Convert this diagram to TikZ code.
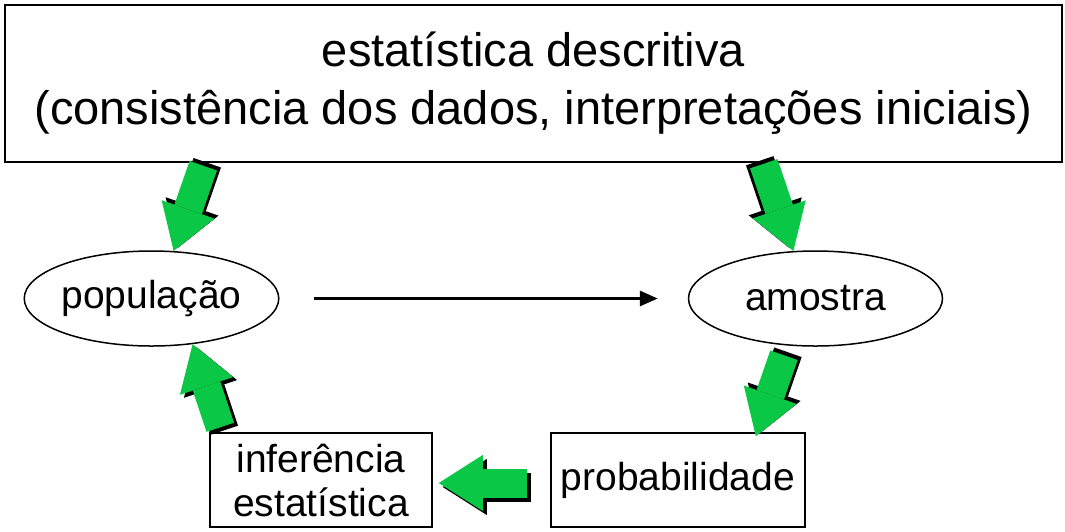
\documentclass[tikz,border=0pt]{standalone}
\usepackage{fontspec}
\setmainfont{Liberation Sans}
\usetikzlibrary{arrows.meta,calc,shapes.geometric}
\definecolor{arrowgreen}{RGB}{10,200,70}

\begin{document}
\begin{tikzpicture}[x=1pt, y=-1pt,
  box/.style={draw, line width=1.5pt, inner sep=0pt},
  oval/.style={draw, ellipse, line width=1.5pt, inner sep=0pt,
    minimum width=254pt, minimum height=95pt, font=\fontsize{39}{44}\selectfont},
  fat/.style={line width=29pt, -{Triangle[length=44pt,width=56pt,line width=0pt]}}]
  \useasboundingbox (0,0) rectangle (1065,531);

  % boxes and ovals
  \node[box, minimum width=1057pt, minimum height=157pt, align=center,
    font=\fontsize{47}{58}\selectfont] (desc) at (533.5,83.5)
    {estatística descritiva\\(consistência dos dados, interpretações iniciais)};
  \node[oval] (pop) at (151.5,298.5) {população};
  \node[oval] (amo) at (815.5,298.5) {amostra};
  \node[box, minimum width=222pt, minimum height=94pt, align=center,
    font=\fontsize{39}{44}\selectfont] (inf) at (321,480) {inferência\\estatística};
  \node[box, minimum width=254pt, minimum height=94pt,
    font=\fontsize{39}{44}\selectfont] (prob) at (678,480) {probabilidade};

  % thin arrow
  \draw[line width=3pt, -{Triangle[length=18pt,width=15pt]},
    shorten <=34pt, shorten >=30pt] (pop.east) -- (amo.west);

  % ends of the green arrows
  \coordinate (t1) at ($(desc.south west)+(199,3)$);
  \coordinate (h1) at (pop.65);
  \coordinate (t2) at ($(desc.south east)+(-299,1)$);
  \coordinate (h2) at (amo.115);
  \coordinate (t3) at ($(amo.236)+(0,10)$);
  \coordinate (h3) at ($(prob.north east)+(-50,4)$);
  \coordinate (t4) at ($(inf.north west)+(11,-5)$);
  \coordinate (h4) at (pop.-48);
  \coordinate (t5) at ($(prob.west)+(-23,3)$);
  \coordinate (h5) at ($(inf.east)+(6,3)$);

  % green arrows with black shadow
  \foreach \a/\b/\dx/\dy in {t1/h1/4/3, t2/h2/-4/3, t3/h3/4/3, t4/h4/4/-3, t5/h5/4/-4} {
    \draw[fat, black, transform canvas={xshift=\dx pt, yshift=\dy pt}] (\a) -- (\b);
    \draw[fat, arrowgreen] (\a) -- (\b);
  }
\end{tikzpicture}
\end{document}
